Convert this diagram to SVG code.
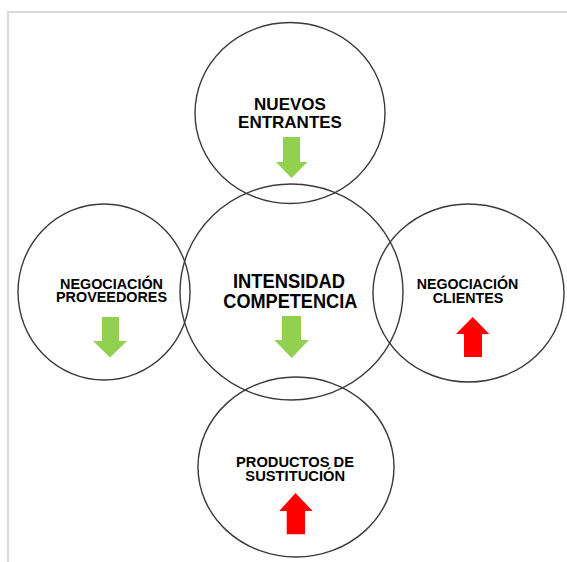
<svg xmlns="http://www.w3.org/2000/svg" width="567" height="562" viewBox="0 0 567 562">
  <style>
    .ring { fill: none; stroke: #3a3a3a; stroke-width: 1.4; }
    .lbl { font-family: "Liberation Sans", Arial, sans-serif; font-weight: bold; fill: #000; text-anchor: middle; }
    .down { fill: #92d050; }
    .up { fill: #ff0000; }
  </style>
  <rect width="567" height="562" fill="#ffffff"/>
  <!-- page frame -->
  <path d="M8,562 V12 H567" fill="none" stroke="#dadada" stroke-width="2"/>

  <g id="nuevos-entrantes">
    <ellipse class="ring" cx="290" cy="113" rx="95" ry="90.5"/>
    <text class="lbl" x="290" y="110" font-size="17">NUEVOS</text>
    <text class="lbl" x="290" y="127.7" font-size="17">ENTRANTES</text>
    <path class="down" d="M283,137 H300 V162 H307.5 L291.5,178 L276,162 H283 Z"/>
  </g>

  <g id="intensidad-competencia">
    <ellipse class="ring" cx="291.5" cy="292" rx="111.5" ry="108"/>
    <text class="lbl" x="289" y="288.3" font-size="19.5" textLength="112" lengthAdjust="spacingAndGlyphs">INTENSIDAD</text>
    <text class="lbl" x="290.3" y="307.7" font-size="19.5" textLength="134" lengthAdjust="spacingAndGlyphs">COMPETENCIA</text>
    <path class="down" d="M282,316 H301 V340 H309 L291.7,358 L274.3,340 H282 Z"/>
  </g>

  <g id="negociacion-proveedores">
    <ellipse class="ring" cx="104" cy="292" rx="86" ry="88"/>
    <text class="lbl" x="111.5" y="289.3" font-size="15" textLength="103" lengthAdjust="spacingAndGlyphs">NEGOCIACIÓN</text>
    <text class="lbl" x="111.5" y="301.7" font-size="15" textLength="111" lengthAdjust="spacingAndGlyphs">PROVEEDORES</text>
    <path class="down" d="M102,317 H119 V341 H127 L110,357.5 L93,341 H102 Z"/>
  </g>

  <g id="negociacion-clientes">
    <ellipse class="ring" cx="468.5" cy="293" rx="95.5" ry="89"/>
    <text class="lbl" x="467.5" y="289.3" font-size="15" textLength="101.6" lengthAdjust="spacingAndGlyphs">NEGOCIACIÓN</text>
    <text class="lbl" x="468" y="303.3" font-size="15" textLength="70.6" lengthAdjust="spacingAndGlyphs">CLIENTES</text>
    <path class="up" d="M472.7,317 L489.3,334 H482 V357 H464 V334 H456 Z"/>
  </g>

  <g id="productos-sustitucion">
    <ellipse class="ring" cx="296" cy="467" rx="98" ry="90"/>
    <text class="lbl" x="295" y="466.7" font-size="14.5" textLength="118" lengthAdjust="spacingAndGlyphs">PRODUCTOS DE</text>
    <text class="lbl" x="295.2" y="480.7" font-size="14.5" textLength="99.7" lengthAdjust="spacingAndGlyphs">SUSTITUCIÓN</text>
    <path class="up" d="M295.5,493 L312.7,511 H305 V534.3 H286.7 V511 H279.3 Z"/>
  </g>
</svg>
